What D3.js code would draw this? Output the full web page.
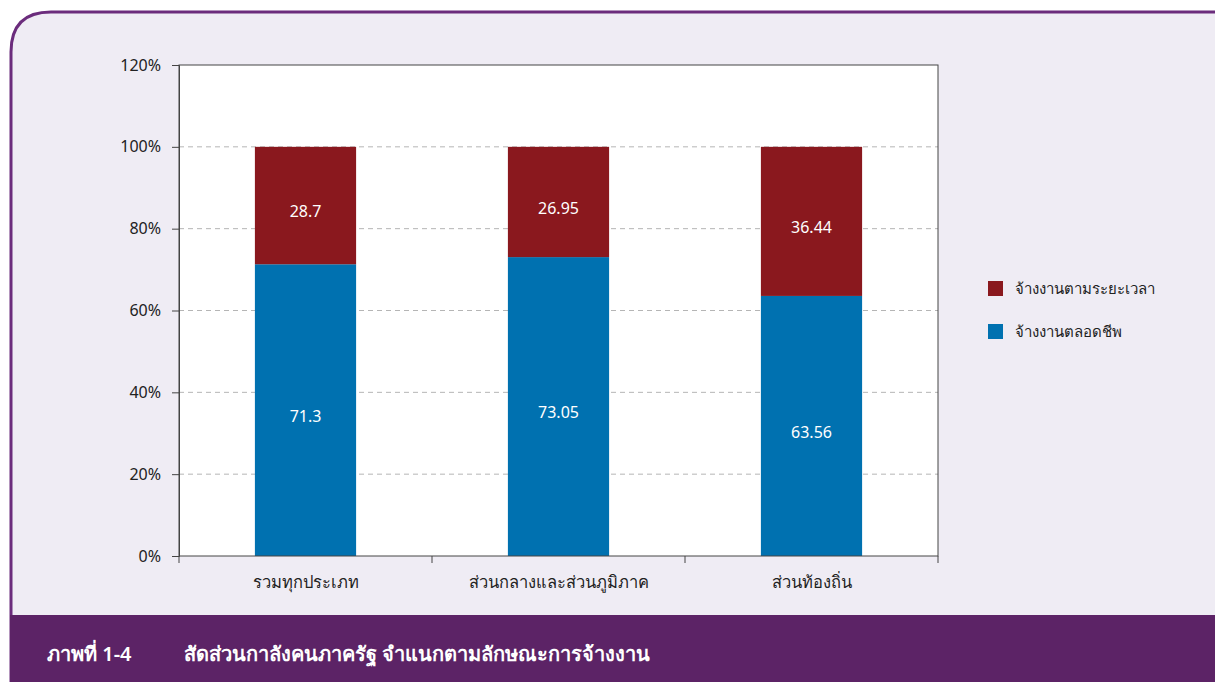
<!DOCTYPE html>
<html>
<head>
<meta charset="utf-8">
<script src="https://cdn.jsdelivr.net/npm/d3@7"></script>
<style>
  html, body { margin: 0; padding: 0; background: #ffffff; }
  svg text { font-family: "Noto Sans", "DejaVu Sans", sans-serif; }
</style>
</head>
<body>
<div id="chart"></div>
<script>
// Stacked share of public-sector workforce by employment type
const categories = ['รวมทุกประเภท', 'ส่วนกลางและส่วนภูมิภาค', 'ส่วนท้องถิ่น'];
const permanent = [71.3, 73.05, 63.56];   // จ้างงานตลอดชีพ
const fixedTerm = [28.7, 26.95, 36.44];   // จ้างงานตามระยะเวลา
const seriesNames = ['จ้างงานตามระยะเวลา', 'จ้างงานตลอดชีพ'];
const yTicks = [0, 20, 40, 60, 80, 100, 120];
const caption = ['ภาพที่ 1-4', 'สัดส่วนกาลังคนภาครัฐ จำแนกตามลักษณะการจ้างงาน'];

const W = 1215, H = 682;
const COLORS = { fixed: '#8a181e', perm: '#0071b0' };
const MARGIN = { top: 65, left: 179, right: 277, bottom: 126 };

const svg = d3.select('#chart').append('svg')
  .attr('width', W).attr('height', H);

// panel background with purple outline
svg.append('path')
  .attr('d', 'M11,690 L11,52 Q11,12 51,12 L1230,12 L1230,690 Z')
  .attr('fill', '#efecf4')
  .attr('stroke', '#6b2c7c')
  .attr('stroke-width', 3);

// caption band
svg.append('path')
  .attr('d', 'M10,615 L1215,615 L1215,682 L10,682 Z')
  .attr('fill', '#5c2366');

const innerW = W - MARGIN.left - MARGIN.right;
const innerH = H - MARGIN.top - MARGIN.bottom;

const g = svg.append('g').attr('transform', `translate(${MARGIN.left},${MARGIN.top})`);

const x = d3.scaleBand().domain(categories).range([0, innerW]).paddingInner(0.6).paddingOuter(0.3);
const y = d3.scaleLinear().domain([0, 120]).range([innerH, 0]);

g.append('rect')
  .attr('width', innerW).attr('height', innerH)
  .attr('fill', '#ffffff');

// dashed gridlines
g.selectAll('.grid').data(yTicks.filter(t => t > 0 && t < 120)).join('line')
  .attr('x1', 0).attr('x2', innerW)
  .attr('y1', d => y(d)).attr('y2', d => y(d))
  .attr('stroke', '#b5b5b5')
  .attr('stroke-dasharray', '5,4');

// bars
const rows = categories.map((c, i) => ({ cat: c, perm: permanent[i], fixed: fixedTerm[i] }));
const stack = d3.stack().keys(['perm', 'fixed'])(rows);

stack.forEach(layer => {
  g.selectAll(null).data(layer).join('rect')
    .attr('x', d => x(d.data.cat))
    .attr('width', x.bandwidth())
    .attr('y', d => y(d[1]))
    .attr('height', d => y(d[0]) - y(d[1]))
    .attr('fill', COLORS[layer.key]);

  g.selectAll(null).data(layer).join('text')
    .attr('x', d => x(d.data.cat) + x.bandwidth() / 2)
    .attr('y', d => y((d[0] + d[1]) / 2) + 6)
    .attr('dy', '0.35em')
    .attr('text-anchor', 'middle')
    .style('font-size', '16px')
    .style('fill', '#ffffff')
    .text(d => d.data[layer.key]);
});

// plot frame
g.append('rect')
  .attr('width', innerW).attr('height', innerH)
  .attr('fill', 'none')
  .attr('stroke', '#444')
  .attr('stroke-width', 1);

// y axis
const yAxis = g.append('g')
  .call(d3.axisLeft(y).tickValues(yTicks).tickFormat(d => d + '%').tickSize(7).tickPadding(11));
yAxis.select('.domain').attr('stroke', '#444');
yAxis.selectAll('line').attr('stroke', '#444');
yAxis.selectAll('text').style('font-size', '16px').style('fill', '#222');

// x axis: ticks at category boundaries
const step = innerW / categories.length;
g.selectAll('.xtick').data(d3.range(categories.length + 1)).join('line')
  .attr('x1', d => d * step).attr('x2', d => d * step)
  .attr('y1', innerH).attr('y2', innerH + 7)
  .attr('stroke', '#444');

g.selectAll('.xlabel').data(categories).join('text')
  .attr('x', d => x(d) + x.bandwidth() / 2)
  .attr('y', innerH + 32)
  .attr('text-anchor', 'middle')
  .style('font-size', '16.5px')
  .style('fill', '#222')
  .text(d => d);

// legend
const legend = svg.append('g').attr('transform', 'translate(988,281)');
const legendColors = [COLORS.fixed, COLORS.perm];
seriesNames.forEach((name, i) => {
  const row = legend.append('g').attr('transform', `translate(0,${i * 43})`);
  row.append('rect').attr('width', 15).attr('height', 15).attr('fill', legendColors[i]);
  row.append('text')
    .attr('x', 27).attr('y', 8).attr('dy', '0.35em')
    .style('font-size', '15px').style('fill', '#222')
    .text(name);
});

// caption
svg.append('text')
  .attr('x', 47).attr('y', 661)
  .style('font-size', '20px').style('font-weight', '600').style('fill', '#ffffff')
  .text(caption[0]);
svg.append('text')
  .attr('x', 184).attr('y', 661)
  .style('font-size', '20px').style('font-weight', '600').style('fill', '#ffffff')
  .text(caption[1]);
</script>
</body>
</html>
